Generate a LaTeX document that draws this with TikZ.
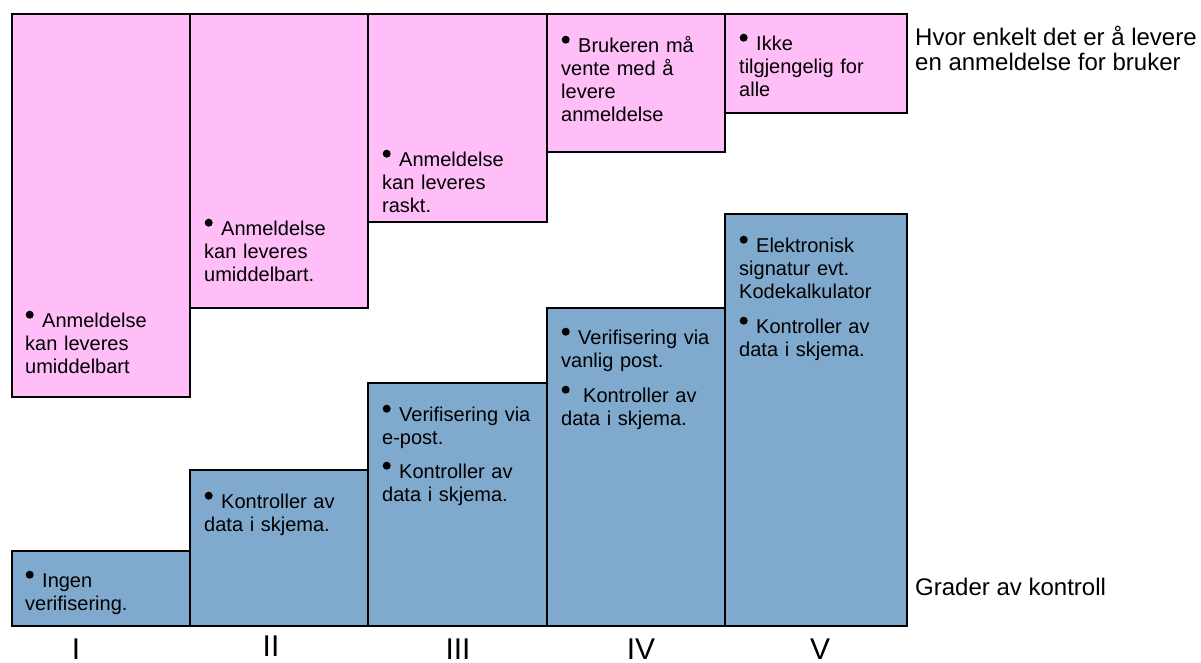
\documentclass[tikz,border=0pt]{standalone}
\usepackage{fontspec}
\setmainfont{Liberation Sans}
\definecolor{pinkf}{RGB}{255,190,248}
\definecolor{bluef}{RGB}{127,169,205}
\newcommand\bul{\tikz[baseline=0pt]{\fill (4.5pt,12.5pt) circle[radius=4pt]; \path (0pt,0pt) (17pt,0pt);}}
\newcommand\fl{\rule{0pt}{17pt}}
\begin{document}
\begin{tikzpicture}[x=1pt,y=-1pt,
  boxbase/.style={draw=black, line width=1.8pt, inner sep=0pt, outer sep=0pt, anchor=north west},
  pinkbox/.style={boxbase, fill=pinkf},
  bluebox/.style={boxbase, fill=bluef},
  txt/.style={anchor=north west, inner sep=0pt, align=left, text width=175pt, font=\fontsize{20}{23}\selectfont},
  lab/.style={anchor=north west, inner sep=0pt, align=left, font=\fontsize{24}{25}\selectfont},
  num/.style={anchor=base, inner sep=0pt, font=\fontsize{30}{30}\selectfont}]
\useasboundingbox (0,0) rectangle (1201,662);
% pink boxes
\node[pinkbox, minimum width=178pt, minimum height=383pt] (p1) at (12,14) {};
\node[pinkbox, minimum width=178pt, minimum height=294pt] (p2) at (190,14) {};
\node[pinkbox, minimum width=179pt, minimum height=208pt] (p3) at (368,14) {};
\node[pinkbox, minimum width=178pt, minimum height=138pt] (p4) at (547,14) {};
\node[pinkbox, minimum width=182pt, minimum height=99pt] (p5) at (725,14) {};
% blue boxes
\node[bluebox, minimum width=178pt, minimum height=75pt] (b1) at (12,551) {};
\node[bluebox, minimum width=178pt, minimum height=156pt] (b2) at (190,470) {};
\node[bluebox, minimum width=179pt, minimum height=243pt] (b3) at (368,383) {};
\node[bluebox, minimum width=178pt, minimum height=318pt] (b4) at (547,308) {};
\node[bluebox, minimum width=182pt, minimum height=412pt] (b5) at (725,214) {};
% pink texts
\node[txt] (tp1) at (25,310) {\fl\bul Anmeldelse\\kan leveres\\umiddelbart};
\node[txt] (tp2) at (204,218) {\fl\bul Anmeldelse\\kan leveres\\umiddelbart.};
\node[txt] (tp3) at (382,149) {\fl\bul Anmeldelse\\kan leveres\\raskt.};
\node[txt] (tp4) at (561,35) {\fl\bul Brukeren må\\vente med å\\levere\\anmeldelse};
\node[txt] (tp5) at (739,33) {\fl\bul Ikke\\tilgjengelig for\\alle};
% blue texts
\node[txt] (tb1) at (25,570) {\fl\bul Ingen\\verifisering.};
\node[txt] (tb2) at (204,491) {\fl\bul Kontroller av\\data i skjema.};
\node[txt] (tb3) at (382,404) {\fl\bul Verifisering via\\e-post.\\[11pt]\bul Kontroller av\\data i skjema.};
\node[txt] (tb4) at (561,327) {\fl\bul Verifisering via\\vanlig post.\\[12pt]\bul\hspace{5pt}Kontroller av\\data i skjema.};
\node[txt] (tb5) at (739,235) {\fl\bul Elektronisk\\signatur evt.\\Kodekalkulator\\[12pt]\bul Kontroller av\\data i skjema.};
% side labels
\node[lab] (top) at (915,26) {\rule{0pt}{19pt}Hvor enkelt det er å levere\\en anmeldelse for bruker};
\node[lab] (bot) at (915,576) {\rule{0pt}{19pt}Grader av kontroll};
% numerals
\node[num] (n1) at (76,659) {I};
\node[num] (n2) at (271,656) {II};
\node[num] (n3) at (458,659) {III};
\node[num] (n4) at (641,659) {IV};
\node[num] (n5) at (820,659) {V};
\end{tikzpicture}
\end{document}
